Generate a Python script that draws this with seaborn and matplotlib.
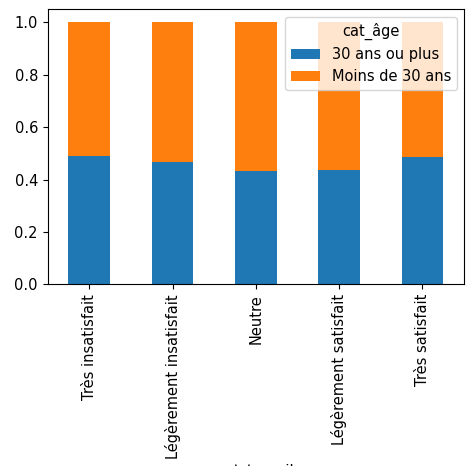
import pandas as pd
import matplotlib
matplotlib.use("Agg")
import matplotlib.pyplot as plt
import seaborn as sns

categories = ["Très insatisfait", "Légèrement insatisfait", "Neutre",
              "Légèrement satisfait", "Très satisfait"]
share_30_plus = [0.49, 0.467, 0.432, 0.435, 0.487]
share_moins_30 = [1 - v for v in share_30_plus]

df = pd.DataFrame({"sat_travail": categories,
                   "30 ans ou plus": share_30_plus,
                   "Moins de 30 ans": share_moins_30})
df["total"] = df["30 ans ou plus"] + df["Moins de 30 ans"]

plt.rcParams["font.size"] = 10.5
fig, ax = plt.subplots(figsize=(4.76, 4.66), dpi=100)
sns.barplot(data=df, x="sat_travail", y="total", color="#ff7f0e", saturation=1,
            width=0.5, ax=ax, label="Moins de 30 ans")
sns.barplot(data=df, x="sat_travail", y="30 ans ou plus", color="#1f77b4", saturation=1,
            width=0.5, ax=ax, label="30 ans ou plus")

ax.set_ylim(0, 1.05)
ax.set_ylabel("")
ax.set_xlabel("sat_travail")
ax.tick_params(axis="x", rotation=90)
handles, labels = ax.get_legend_handles_labels()
ax.legend(handles[::-1], labels[::-1], title="cat_âge", loc="upper right")
fig.subplots_adjust(left=0.1, right=0.975, top=0.98, bottom=0.39)
fig.savefig("out.png")
